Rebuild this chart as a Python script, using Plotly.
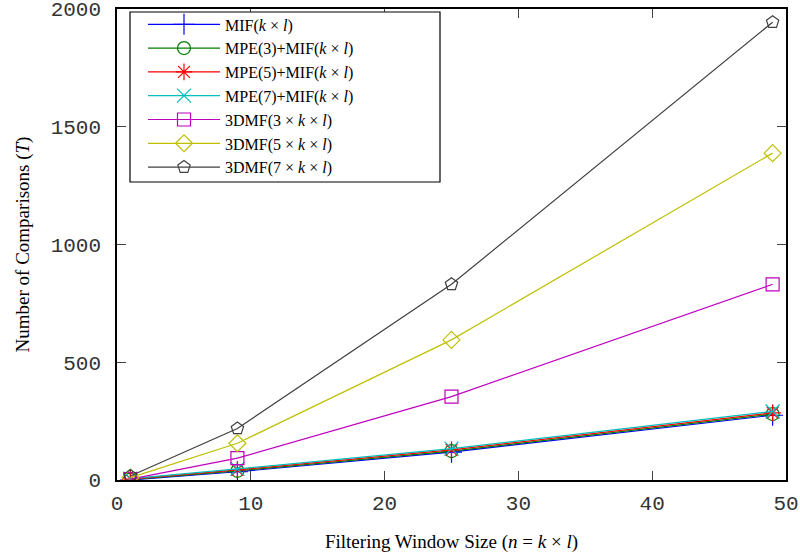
import plotly.graph_objects as go

# Filtering window sizes n = k x l
window_sizes = [1, 9, 25, 49]

# Number of comparisons per method
mif = [0, 35, 118, 275]
mpe3_mif = [2, 39, 123, 280]
mpe5_mif = [4, 43, 128, 285]
mpe7_mif = [6, 47, 133, 291]
dmf3 = [4, 93, 354, 831]
dmf5 = [10, 156, 595, 1388]
dmf7 = [17, 219, 831, 1944]

series_names = [
    "MIF(<i>k</i> × <i>l</i>)",
    "MPE(3)+MIF(<i>k</i> × <i>l</i>)",
    "MPE(5)+MIF(<i>k</i> × <i>l</i>)",
    "MPE(7)+MIF(<i>k</i> × <i>l</i>)",
    "3DMF(3 × <i>k</i> × <i>l</i>)",
    "3DMF(5 × <i>k</i> × <i>l</i>)",
    "3DMF(7 × <i>k</i> × <i>l</i>)",
]
series_values = [mif, mpe3_mif, mpe5_mif, mpe7_mif, dmf3, dmf5, dmf7]
colors = ["#0000ff", "#008000", "#ff0000", "#00bfbf", "#bf00bf", "#bfbf00", "#404040"]
symbols = ["cross-thin-open", "circle-open", "asterisk-open", "x-thin-open",
           "square-open", "diamond-open", "pentagon-open"]
sizes = [15, 13, 14, 14, 13, 13, 13]

x_ticks = [0, 10, 20, 30, 40, 50]
y_ticks = [0, 500, 1000, 1500, 2000]

fig = go.Figure()
for name, vals, col, sym, sz in zip(series_names, series_values, colors, symbols, sizes):
    fig.add_trace(go.Scatter(
        x=window_sizes, y=vals, name=name, mode="lines+markers",
        line=dict(color=col, width=1.2),
        marker=dict(symbol=sym, size=sz, color=col, line=dict(color=col, width=1.2)),
    ))

tick_font = dict(family="Liberation Mono", size=21, color="#333333")
title_font = dict(family="Liberation Serif", size=19, color="black")
axis_common = dict(
    showgrid=False, zeroline=False, showline=True, linecolor="black", linewidth=1.5,
    mirror="allticks", ticks="inside", ticklen=9, tickcolor="#444444", tickwidth=1,
    tickfont=tick_font, ticklabeloverflow="allow", automargin=False,
)

# Plot area in pixels: x 117..786, y 9..480
# Legend frame, drawn as a box in paper coordinates
fig.add_shape(type="rect", xref="paper", yref="paper",
              x0=13 / 669, x1=323 / 669, y0=298 / 471, y1=468 / 471,
              line=dict(color="black", width=1.2), fillcolor="white", layer="above")

fig.update_layout(
    width=800, height=560,
    margin=dict(l=117, r=14, t=9, b=80, autoexpand=False),
    paper_bgcolor="white", plot_bgcolor="white",
    xaxis=dict(range=[0, 50], tickvals=x_ticks, ticktext=[str(v) for v in x_ticks],
               ticklabelstandoff=3,
               title=dict(text="Filtering Window Size (<i>n</i> = <i>k</i> × <i>l</i>)",
                          font=title_font, standoff=20),
               **axis_common),
    yaxis=dict(range=[0, 2000], tickvals=y_ticks, ticktext=[str(v) for v in y_ticks],
               ticklabelstandoff=10,
               title=dict(text="Number of Comparisons (<i>T</i>)",
                          font=title_font, standoff=16),
               **axis_common),
    legend=dict(
        x=26 / 669, y=1.0034, xanchor="left", yanchor="top",
        bgcolor="rgba(0,0,0,0)", borderwidth=0,
        font=dict(family="Liberation Serif", size=16, color="black"),
        itemwidth=72,
    ),
    showlegend=True,
)

fig.write_html("out.html")
